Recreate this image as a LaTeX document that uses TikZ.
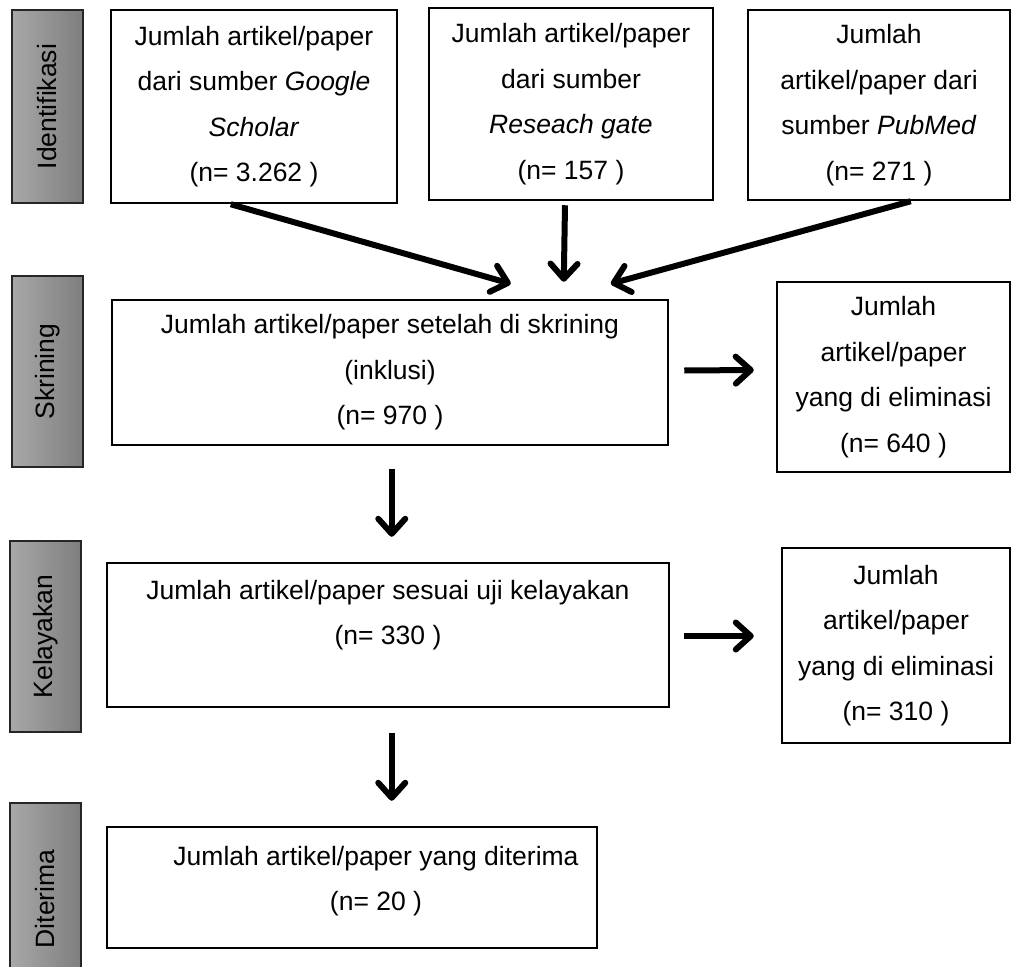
\documentclass[tikz,border=0pt]{standalone}
\usepackage{fontspec}
\setmainfont{Liberation Sans}
\usepackage{graphicx}
\usetikzlibrary{arrows.meta,calc}
\definecolor{sideL}{RGB}{168,168,168}
\definecolor{sideR}{RGB}{126,126,126}
\begin{document}
\begin{tikzpicture}[x=1pt,y=-1pt,
  box/.style={draw=black, line width=2.5pt, inner sep=0pt, align=center,
    font=\fontsize{26.5}{45.5}\selectfont},
  txt/.style={inner sep=0pt, align=center, font=\fontsize{26.5}{45.5}\selectfont},
  side/.style={draw=black!85, line width=1.3pt, left color=sideL, right color=sideR,
    inner sep=0pt, font=\fontsize{26.5}{30}\selectfont},
  arr/.style={line width=6pt, -{Straight Barb[length=15pt,width=27pt,round]}}
]
\useasboundingbox (0,0) rectangle (1014,966);
\clip (0,0) rectangle (1014,966);

% side bars
\node[side, minimum width=71, minimum height=193] (l1) at (47.5,106.5) {\rotatebox{90}{Identifikasi}};
\node[side, minimum width=71, minimum height=191] (l2) at (47.5,371.5) {\rotatebox{90}{Skrining}};
\node[side, minimum width=71, minimum height=191] (l3) at (45.5,636.5) {\rotatebox{90}{Kelayakan}};
\node[side, minimum width=71, minimum height=192] (l4) at (45.5,899) {\rotatebox{90}{Diterima}};

% boxes
\node[box, minimum width=286, minimum height=193] (b1) at (254,106.5)
  {Jumlah artikel/paper\\dari sumber \textit{Google}\\\textit{Scholar}\\(n= 3.262 )};
\node[box, minimum width=284, minimum height=192] (b2) at (571,104)
  {Jumlah artikel/paper\\dari sumber\\\textit{Reseach gate}\\(n= 157 )};
\node[box, minimum width=262, minimum height=190] (b3) at (879,105)
  {Jumlah\\artikel/paper dari\\sumber \textit{PubMed}\\(n= 271 )};

\node[box, minimum width=556, minimum height=145] (s) at (390,372.5)
  {Jumlah artikel/paper setelah di skrining\\(inklusi)\\(n= 970 )};
\node[box, minimum width=233, minimum height=190] (e1) at (893.5,377)
  {Jumlah\\artikel/paper\\yang di eliminasi\\(n= 640 )};

\node[box, minimum width=562, minimum height=144] (k) at (388,635) {};
\node[txt] (kt) at (388,615) {Jumlah artikel/paper sesuai uji kelayakan\\(n= 330 )};
\node[box, minimum width=228, minimum height=195] (e2) at (896,645.5)
  {Jumlah\\artikel/paper\\yang di eliminasi\\(n= 310 )};

\node[box, minimum width=490, minimum height=121] (d) at (352,887.5) {};
\node[txt] (dt) at (376,881) {Jumlah artikel/paper yang diterima\\(n= 20 )};

% arrows
\draw[arr] ($(b1.south west)+(121,0)$) -- ($(s.north west)+(400,-15)$);
\draw[arr] ($(b2.south)+(-6,4)$) -- ($(s.north west)+(453,-17)$);
\draw[arr] ($(b3.south west)+(164,0)$) -- ($(s.north west)+(500,-15)$);
\draw[arr] ($(s.east)+(15,-2)$) -- ($(e1.west)+(-22,-7)$);
\draw[arr] ($(s.south west)+(281,23)$) -- ($(k.north west)+(286,-25)$);
\draw[arr] ($(k.east)+(14,1)$) -- ($(e2.west)+(-27,-9.5)$);
\draw[arr] ($(k.south west)+(286,25)$) -- ($(d.north west)+(286,-25)$);
\end{tikzpicture}
\end{document}
